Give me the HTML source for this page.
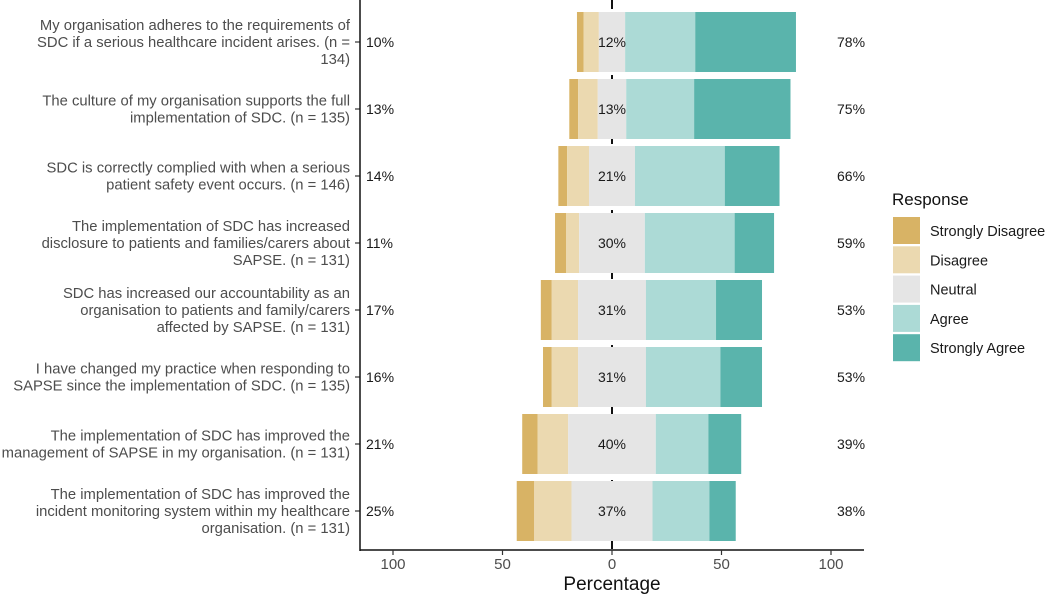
<!DOCTYPE html>
<html><head><meta charset="utf-8"><style>
body{margin:0;background:#fff;}
svg{display:block;font-family:"Liberation Sans",Arial,sans-serif;}
</style></head><body>
<svg id="chart" width="1050" height="595" viewBox="0 0 1050 595">
<g id="grid"></g><g id="bars"></g><g id="labels"></g><g id="axes"></g><g id="legend"></g>
</svg>
<script>
const questions = [
 ["My organisation adheres to the requirements of","SDC if a serious healthcare incident arises. (n =","134)"],
 ["The culture of my organisation supports the full","implementation of SDC. (n = 135)"],
 ["SDC is correctly complied with when a serious","patient safety event occurs. (n = 146)"],
 ["The implementation of SDC has increased","disclosure to patients and families/carers about","SAPSE. (n = 131)"],
 ["SDC has increased our accountability as an","organisation to patients and family/carers","affected by SAPSE. (n = 131)"],
 ["I have changed my practice when responding to","SAPSE since the implementation of SDC. (n = 135)"],
 ["The implementation of SDC has improved the","management of SAPSE in my organisation. (n = 131)"],
 ["The implementation of SDC has improved the","incident monitoring system within my healthcare","organisation. (n = 131)"]
];
const stronglyDisagree = [3, 4, 4, 5, 5, 4, 7, 8];
const disagree = [7, 9, 10, 6, 12, 12, 14, 17];
const neutral = [12, 13, 21, 30, 31, 31, 40, 37];
const agree = [32, 31, 41, 41, 32, 34, 24, 26];
const stronglyAgree = [46, 44, 25, 18, 21, 19, 15, 12];
const lowLabels = ["10%","13%","14%","11%","17%","16%","21%","25%"];
const midLabels = ["12%","13%","21%","30%","31%","31%","40%","37%"];
const highLabels = ["78%","75%","66%","59%","53%","53%","39%","38%"];
const xTicks = [-100, -50, 0, 50, 100];
const xTickLabels = ["100","50","0","50","100"];
const responses = ["Strongly Disagree","Disagree","Neutral","Agree","Strongly Agree"];
const colors = ["#d8b365","#ebd9b0","#e5e5e5","#acdad6","#5ab4ac"];

const NS="http://www.w3.org/2000/svg";
const X0=612, SC=2.19, Y0=42, ROW=67, BH=60, AXL=360, AXR=864, AXB=550;
const x = v => X0 + v*SC;
const y = i => Y0 + i*ROW;
function mk(tag, attrs, parent, text){const e=document.createElementNS(NS,tag);for(const k in attrs)e.setAttribute(k,attrs[k]);if(text!==undefined)e.textContent=text;parent.appendChild(e);return e;}
const G=id=>document.getElementById(id);

const zl=mk("line",{x1:x(0),x2:x(0),y1:0,y2:AXB,stroke:"#111","stroke-width":2,"stroke-dasharray":"9,6"},G("grid"));



const series=[stronglyDisagree,disagree,neutral,agree,stronglyAgree];
for(let i=0;i<questions.length;i++){
  let left=-(neutral[i]/2+disagree[i]+stronglyDisagree[i]);
  for(let s=0;s<5;s++){
    const v=series[s][i];
    const r=mk("rect",{x:x(left),y:y(i)-BH/2,width:v*SC,height:BH,fill:colors[s]},G("bars"));
    
    
    left+=v;
  }
  const t1=mk("text",{x:366,y:y(i)+5,"font-size":14,fill:"#1a1a1a"},G("labels"),lowLabels[i]);
  
  
  const t2=mk("text",{x:x(0),y:y(i)+5,"font-size":14,fill:"#1a1a1a","text-anchor":"middle"},G("labels"),midLabels[i]);
  
  
  const t3=mk("text",{x:837,y:y(i)+5,"font-size":14,fill:"#1a1a1a"},G("labels"),highLabels[i]);
  
  
  const lines=questions[i];
  const n=lines.length, lh=17;
  const q=mk("text",{"font-size":14.8,fill:"#4d4d4d","text-anchor":"end"},G("axes"));
  
  
  lines.forEach((ln,k)=>{mk("tspan",{x:350,y:y(i)+5+(k-(n-1)/2)*lh},q,ln);});
  const tk=mk("line",{x1:355,x2:AXL,y1:y(i),y2:y(i),stroke:"#333","stroke-width":1.2},G("axes"));
  
  
}
const ya=mk("line",{x1:AXL,x2:AXL,y1:0,y2:AXB+1,stroke:"#111","stroke-width":1.5},G("axes"));


const xa=mk("line",{x1:AXL,x2:AXR,y1:AXB,y2:AXB,stroke:"#111","stroke-width":1.5},G("axes"));


xTicks.forEach((v,k)=>{
  const tk=mk("line",{x1:x(v),x2:x(v),y1:AXB,y2:AXB+5,stroke:"#333","stroke-width":1.2},G("axes"));
  
  
  const tl=mk("text",{x:x(v),y:AXB+19,"font-size":15,fill:"#4d4d4d","text-anchor":"middle"},G("axes"),xTickLabels[k]);
  
  
});
const xt=mk("text",{x:x(0),y:590,"font-size":19,fill:"#111","text-anchor":"middle"},G("axes"),"Percentage");


const lt=mk("text",{x:892,y:205,"font-size":17,fill:"#111"},G("legend"),"Response");


responses.forEach((r,k)=>{
  const ky=217+k*29.3;
  const sw=mk("rect",{x:893,y:ky,width:27,height:27,fill:colors[k]},G("legend"));
  
  
  const lx=mk("text",{x:930,y:ky+19,"font-size":14.5,fill:"#1a1a1a"},G("legend"),r);
  
  
});
</script>
</body></html>
